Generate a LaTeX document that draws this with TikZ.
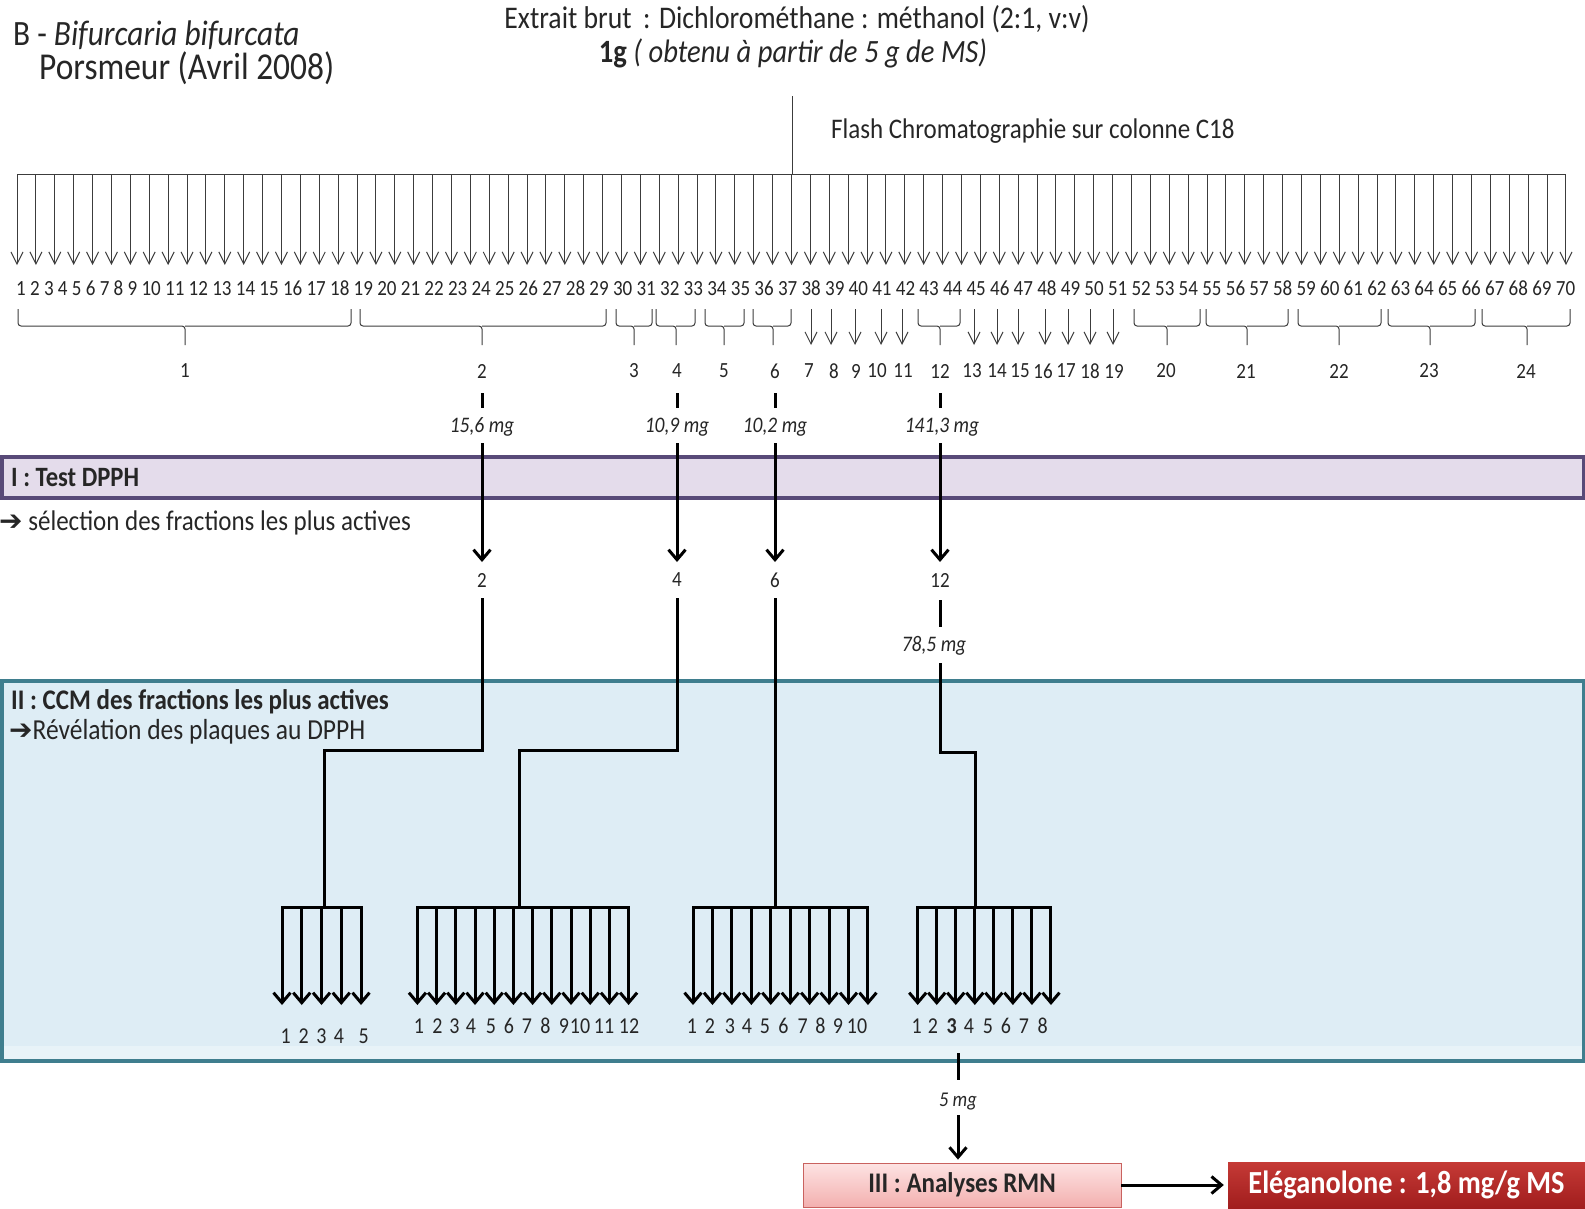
\documentclass[tikz,border=0pt]{standalone}
\usepackage{fontspec}
\setmainfont{Carlito}[FakeStretch=0.88]
\newfontfamily\symfont{DejaVu Sans}
\usetikzlibrary{arrows.meta}
\newcommand\fsz[1]{\fontsize{#1}{#1}\selectfont}
\definecolor{thingray}{HTML}{3C3C3C}
\definecolor{txtgray}{HTML}{262626}
\definecolor{purpleborder}{HTML}{584A78}
\definecolor{purplefill}{HTML}{E4DCEB}
\definecolor{tealborder}{HTML}{3F7E8E}
\definecolor{tealfill}{HTML}{DEEDF5}
\definecolor{tealband}{HTML}{E8F3F8}
\definecolor{pinktop}{HTML}{FDE3E3}
\definecolor{pinkbot}{HTML}{F3B0AF}
\definecolor{pinkborder}{HTML}{C9625F}
\definecolor{redtop}{HTML}{C53A36}
\definecolor{redbot}{HTML}{A11D1D}
\begin{document}
\begin{tikzpicture}[x=1pt,y=-1pt,
  thinline/.style={draw=thingray, line width=1pt},
  thinarrow/.style={thinline, -{Straight Barb[length=12pt,width=12pt]}},
  bracestyle/.style={draw=thingray, line width=1pt, rounded corners=3pt},
  bar/.style={draw=black, line width=3pt},
  bigarrow/.style={bar, -{Straight Barb[length=10pt,width=17pt]}},
  lbl/.style={inner sep=0pt, text=txtgray},
  grp/.style={lbl, font=\fsz{21.6}},
  mgtxt/.style={lbl, font=\fsz{22.2}\itshape},
  sel/.style={lbl, font=\fsz{21.6}},
  fanlbl/.style={lbl, font=\fsz{22.7}},
  hdr/.style={inner sep=0pt, text=txtgray},
]
\fill[white] (0,0) rectangle (1585,1208);
\useasboundingbox (0,0) rectangle (1585,1208);

% ---------- boxes ----------
\draw[line width=3.5pt, draw=purpleborder, fill=purplefill] (1.75,457) rectangle (1583.25,498);
\draw[line width=3.5pt, draw=tealborder, fill=tealfill] (1.75,681) rectangle (1583.25,1061);
\fill[tealband] (3.5,1046) rectangle (1581.5,1059.25);

% ---------- header ----------
\node[hdr, anchor=west, font=\fsz{35.6}] (title) at (13,35) {B - \textit{Bifurcaria bifurcata}};
\node[hdr, anchor=west, font=\fsz{38}] (site) at (39,68) {Porsmeur (Avril 2008)};
\node[hdr, font=\fsz{31.5}] (ext) at (797,19) {Extrait brut\, : Dichlorométhane : méthanol (2:1, v:v)};
\node[hdr, font=\fsz{32.5}] (yield) at (793,53) {\textbf{1g} \textit{( obtenu à partir de 5 g de MS)}};
\node[hdr, anchor=west, font=\fsz{28.4}] (flash) at (831,131) {Flash Chromatographie sur colonne C18};
\coordinate (top) at (792,96);
\coordinate (hub) at (792,174);
\draw[thinline] (top) -- (hub);

% ---------- fan of fractions ----------
\coordinate (hl) at (17,174);
\coordinate (hr) at (1566,174);
\draw[thinline] (hl) -- (hr);
\foreach \i in {0,...,82}{
  \draw[thinarrow] ({17+\i*18.89},174) -- ({17+\i*18.89},265);
}
\node[lbl, anchor=west, font=\fsz{21.6}] (row) at (16,288) {1 2 3 4 5 6 7 8 9 10 11 12 13 14 15 16 17 18 19 20 21 22 23 24 25 26 27 28 29 30 31 32 33 34 35 36 37 38 39 40 41 42 43 44 45 46 47 48 49 50 51 52 53 54 55 56 57 58 59 60 61 62 63 64 65 66 67 68 69 70};

% ---------- braces ----------
\foreach \a/\b/\m in {18/351/185, 360/606/482, 616/652/634, 656/695/676, 705/744/724, 753/791/773, 918/960/940, 1134/1200/1167, 1206/1288/1247, 1298/1381/1339, 1388/1475/1430, 1482/1570/1527}{
  \draw[bracestyle] (\a,309) |- (\m,326) -- (\m,345);
  \draw[bracestyle] (\b,309) |- (\m,326);
}
\foreach \x in {811,831,855,881,902,974,997,1018,1045,1068,1090,1113}{
  \draw[thinarrow] (\x,309) -- (\x,345);
}
\foreach \n/\x in {1/185, 2/482, 3/634, 4/677, 5/724, 6/775, 7/809, 8/834, 9/856, 10/877, 11/903, 12/940, 13/972, 14/997, 15/1020, 16/1043, 17/1066, 18/1090, 19/1114, 20/1166, 21/1246, 22/1339, 23/1429, 24/1526}{
  \node[grp] (g\n) at (\x,371) {\n};
}

% ---------- masses and selection ----------
\node[mgtxt] (m2) at (482,427) {15,6 mg};
\node[mgtxt] (m4) at (677,427) {10,9 mg};
\node[mgtxt] (m6) at (775,427) {10,2 mg};
\node[mgtxt] (m12) at (942,427) {141,3 mg};
\foreach \n in {2,4,6}{
  \draw[bar, shorten <=22pt, shorten >=19pt] (g\n.center) -- (m\n.center);
}
\node[sel] (s2) at (482,580) {2};
\node[sel] (s4) at (677,580) {4};
\node[sel] (s6) at (775,580) {6};
\node[sel] (s12) at (940,580) {12};
\draw[bar, shorten <=22pt, shorten >=19pt] (g12.center) -- (g12.center |- m12.center);
\foreach \n in {2,4,6}{
  \draw[bigarrow, shorten <=16pt, shorten >=18pt] (m\n.center) -- (s\n.center);
}
\draw[bigarrow, shorten <=16pt, shorten >=18pt] (s12.center |- m12.center) -- (s12.center);

\node[hdr, anchor=west, font=\fsz{28}\bfseries] (t1) at (11,478) {I : Test DPPH};
\node[hdr, anchor=west, font=\fsz{28.4}] (t1b) at (-1,523) {{\symfont\fsz{28}\bfseries ➔} sélection des fractions les plus actives};

\node[hdr, anchor=west, font=\fsz{28.4}\bfseries] (t2) at (11,702) {II : CCM des fractions les plus actives};
\node[hdr, anchor=west, font=\fsz{29}] (t2b) at (9,732) {{\symfont\fsz{28}\bfseries ➔}Révélation des plaques au DPPH};

\node[mgtxt] (m12b) at (934,646) {78,5 mg};

% ---------- connectors to sub-fractions ----------
\coordinate (k2) at (482,750);
\coordinate (k4) at (677,750);
\coordinate (k12) at (940,752);
\coordinate (fA) at (324,907);
\coordinate (fB) at (519,907);
\coordinate (fC) at (775,907);
\coordinate (fD) at (975,907);
\draw[bar, shorten <=18pt] (s2.center) -- (k2) -| (fA);
\draw[bar, shorten <=18pt] (s4.center) -- (k4) -| (fB);
\draw[bar, shorten <=18pt] (s6.center) -- (fC);
\draw[bar, shorten <=20pt, shorten >=19pt] (s12.center) -- (s12.center |- m12b.center);
\draw[bar, shorten <=17pt] (s12.center |- m12b.center) -- (k12) -| (fD);

% ---------- sub-fraction fans ----------
\foreach \xa/\st/\nn in {282/19.75/5, 417.4/19.2/12, 693/19.44/10, 917.7/19.04/8}{
  \draw[bar, line cap=rect] (\xa,907) -- ({\xa+(\nn-1)*\st},907);
  \foreach \k in {1,...,\nn}{
    \draw[bigarrow] ({\xa+(\k-1)*\st},907) -- ({\xa+(\k-1)*\st},1005);
  }
}
\foreach \t/\x in {1/285.7, 2/303.6, 3/321.4, 4/339, 5/363.8}{
  \node[fanlbl] (a\t) at (\x,1036) {\t};
}
\foreach \t/\x in {1/419, 2/437.5, 3/454.5, 4/471, 5/491, 6/509, 7/527, 8/545.5, 9/564, 10/580, 11/604, 12/629}{
  \node[fanlbl] (b\t) at (\x,1026) {\t};
}
\foreach \t/\x in {1/692, 2/710, 3/730, 4/747, 5/765, 6/783.5, 7/802.7, 8/820.5, 9/838, 10/857}{
  \node[fanlbl] (c\t) at (\x,1026) {\t};
}
\foreach \t/\x in {1/916.7, 2/933, 4/969, 5/988, 6/1006, 7/1024, 8/1042.7}{
  \node[fanlbl] (d\t) at (\x,1026) {\t};
}
\node[fanlbl, font=\fsz{22.7}\bfseries] (d3) at (951.7,1026) {3};

% ---------- final steps ----------
\node[mgtxt, font=\fsz{21}\itshape] (m5) at (958,1102) {5 mg};
\draw[bar, shorten <=27pt, shorten >=22pt] (m5.center |- d3.center) -- (m5.center);
\node[draw=pinkborder, line width=0.8pt, top color=pinktop, bottom color=pinkbot,
      minimum width=318pt, minimum height=44pt, inner sep=0pt, font=\fsz{28.4}\bfseries, text=txtgray] (rmn) at (962,1185) {III : Analyses RMN};
\draw[bigarrow, shorten <=13pt, shorten >=3pt] (m5.center) -- (m5.center |- rmn.north);
\node[top color=redtop, bottom color=redbot, minimum width=357pt, minimum height=46pt,
      inner sep=0pt, font=\fsz{32.2}\bfseries, text=white] (ele) at (1406.5,1185) {Eléganolone : 1,8 mg/g MS};
\draw[bigarrow, shorten >=4pt] (rmn.east) -- (ele.west);
\end{tikzpicture}
\end{document}
